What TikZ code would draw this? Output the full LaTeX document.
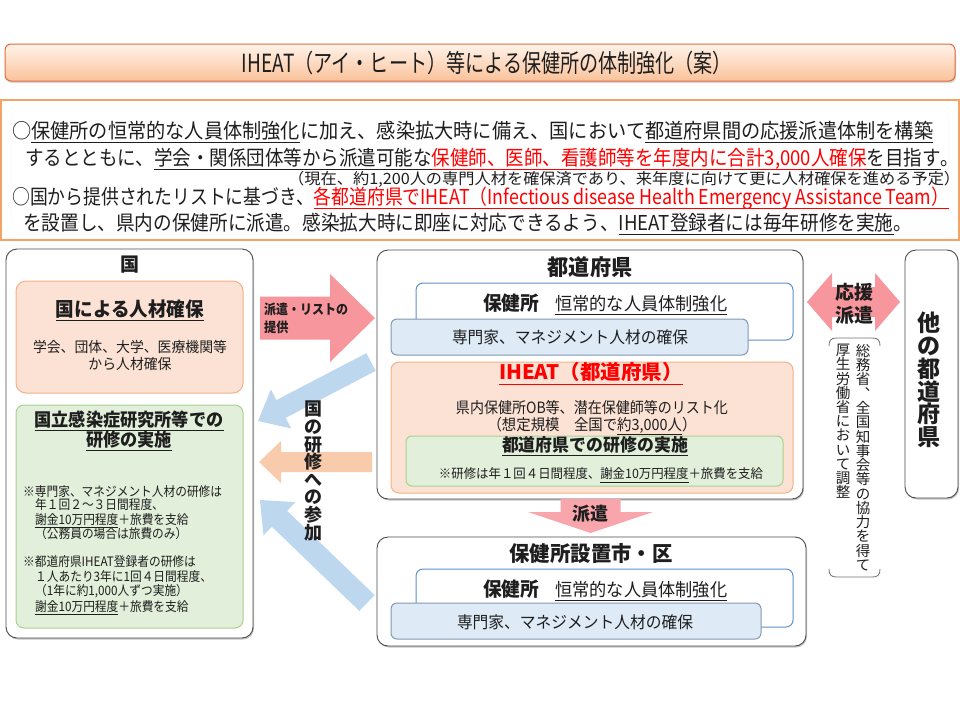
\documentclass[tikz,border=0pt]{standalone}
\usepackage{fontspec}
\setmainfont{Noto Sans CJK JP}
\usepackage{graphicx}
\usetikzlibrary{shadows,fit}

\definecolor{titleline}{HTML}{E26A3C}
\definecolor{titletop}{HTML}{FFF3EA}
\definecolor{titlebot}{HTML}{FAC29A}
\definecolor{introline}{HTML}{F2A365}
\definecolor{peachline}{HTML}{F4B183}
\definecolor{peachfill}{HTML}{FBE2D5}
\definecolor{greenline}{HTML}{A9D18E}
\definecolor{greenfill}{HTML}{E2EFDA}
\definecolor{blueline}{HTML}{5B8FC9}
\definecolor{slate}{HTML}{8497B0}
\definecolor{bluefill}{HTML}{DEEBF7}
\definecolor{pinkarrow}{HTML}{F7969C}
\definecolor{lightblue}{HTML}{BDD7EE}
\definecolor{lightorange}{HTML}{F8CBAD}
\definecolor{textred}{HTML}{FF0000}
\definecolor{textdark}{HTML}{1E1E1E}

\newcommand{\fsz}[1]{\fontsize{#1}{#1}\selectfont}
\newcommand{\ulx}[1]{\underline{\smash{#1}\rule[-0.13em]{0pt}{0.1em}}}
\newcommand{\redul}[1]{\textcolor{textred}{\ulx{#1}}}
\newcommand{\fitw}[2]{\resizebox{#1}{\height}{#2}}
\newcommand{\sx}[2]{\scalebox{#1}[1]{#2}}

\newdimen\bkxa \newdimen\bkya \newdimen\bkxb \newdimen\bkyb
\newcommand{\blockarrow}[6]{%
  \pgfextractx{\bkxa}{\pgfpointanchor{#2}{center}}%
  \pgfextracty{\bkya}{\pgfpointanchor{#2}{center}}%
  \pgfextractx{\bkxb}{\pgfpointanchor{#3}{center}}%
  \pgfextracty{\bkyb}{\pgfpointanchor{#3}{center}}%
  \pgfmathsetmacro\bkang{atan2(\bkyb-\bkya,\bkxb-\bkxa)}%
  \pgfmathsetmacro\bklen{veclen(\bkxb-\bkxa,\bkyb-\bkya)}%
  \fill[#1, shift={(\the\bkxa,\the\bkya)}, rotate=\bkang]
    (0,#4/2) -- ({\bklen-#6},#4/2) -- ({\bklen-#6},#5/2) -- (\bklen,0)
    -- ({\bklen-#6},-#5/2) -- ({\bklen-#6},-#4/2) -- (0,-#4/2) -- cycle;
}

\tikzset{
  outerbox/.style={draw=black!70, line width=0.9pt, rounded corners=11pt, fill=white, inner sep=0pt,
    drop shadow={shadow xshift=1pt, shadow yshift=-1.5pt, opacity=0.45}},
  orbox/.style={draw=peachline, fill=peachfill, line width=1pt, rounded corners=10pt, inner sep=0pt},
  grbox/.style={draw=greenline, fill=greenfill, line width=1pt, rounded corners=8pt, inner sep=0pt},
  hkbox/.style={draw=blueline, fill=white, line width=1pt, rounded corners=7pt, inner sep=0pt},
  bluebox/.style={draw=slate, fill=bluefill, line width=1pt, rounded corners=6pt, inner sep=0pt},
  txt/.style={inner sep=0pt, text=textdark},
  intro/.style={txt, anchor=base west, font=\fsz{20.5}},
  glist/.style={txt, anchor=base west, font=\fsz{13}},
}

\begin{document}
\begin{tikzpicture}[x=1pt,y=-1pt]
\useasboundingbox (0,0) rectangle (960,720);
\fill[white] (0,0) rectangle (960,720);

% title
\node[fit={(5,44) (955,81)}, inner sep=0pt, draw=titleline, line width=1pt, rounded corners=6pt,
  top color=titletop, bottom color=titlebot,
  drop shadow={shadow xshift=1pt, shadow yshift=-2pt, opacity=0.3}] (title) {};
\node[txt, font=\fsz{25}] (titletext) at (487,63) {\fitw{490pt}{IHEAT（アイ・ヒート）等による保健所の体制強化（案）}};

% intro box
\node[fit={(1,100) (959,240)}, inner sep=0pt, draw=introline, line width=1.3pt] (introbox) {};
\node[intro] (l1) at (12,138.5) {\fitw{921pt}{○\ulx{保健所の恒常的な人員体制強化}に加え、感染拡大時に備え、国において\ulx{都道府県間の応援派遣体制を構築}}};
\node[intro] (l2) at (25,165.5) {\fitw{934pt}{するとともに、\ulx{学会・関係団体等から派遣可能な}\redul{保健師、医師、看護師等を年度内に合計3,000人確保}\ulx{を目指す}。}};
\node[intro, font=\fsz{15.5}] (l3) at (288,184) {\fitw{672pt}{（現在、約1,200人の専門人材を確保済であり、来年度に向けて更に人材確保を進める予定）}};
\node[intro] (l4) at (12,204.5) {\fitw{937pt}{○国から提供されたリストに基づき、\redul{各都道府県でIHEAT（Infectious disease Health Emergency Assistance Team）}}};
\node[intro] (l5) at (23,230.5) {\fitw{889pt}{を設置し、県内の保健所に派遣。感染拡大時に即座に対応できるよう、\ulx{IHEAT登録者には毎年研修を実施}。}};

% national box
\node[outerbox, fit={(6,249) (253,638)}] (kuni) {};
\node[txt, font=\bfseries\fsz{19}] (kunititle) at (130,265) {国};
\node[orbox, fit={(16,281) (243,393)}] (jinzai) {};
\node[txt, font=\bfseries\fsz{19.5}] (jinzaititle) at (130,319) {\ulx{\fitw{148pt}{国による人材確保}}};
\node[txt, font=\fsz{14.5}] (jinzai1) at (130,347) {\fitw{194pt}{学会、団体、大学、医療機関等}};
\node[txt, font=\fsz{14.5}] (jinzai2) at (130,364) {\sx{0.955}{から人材確保}};

\node[grbox, fit={(16,405) (243,628)}] (kenkyu) {};
\node[txt, font=\bfseries\fsz{18}] (kenkyu1) at (129,429) {\ulx{\fitw{189pt}{国立感染症研究所等での}}};
\node[txt, font=\bfseries\fsz{18}] (kenkyu2) at (129,449) {\ulx{\sx{0.955}{研修の実施}}};
\node[glist] (g1) at (23,496) {\sx{0.9}{※専門家、マネジメント人材の研修は}};
\node[glist] (g2) at (35,509.5) {\sx{0.9}{年１回２～３日間程度、}};
\node[glist] (g3) at (35,524.5) {\sx{0.9}{\ulx{謝金10万円程度}＋旅費を支給}};
\node[glist] (g4) at (35,538.5) {\sx{0.9}{（公務員の場合は旅費のみ）}};
\node[glist] (g5) at (23,566) {\sx{0.9}{※都道府県IHEAT登録者の研修は}};
\node[glist] (g6) at (35,581) {\sx{0.9}{１人あたり3年に1回４日間程度、}};
\node[glist] (g7) at (35,595.5) {\sx{0.9}{（1年に約1,000人ずつ実施）}};
\node[glist] (g8) at (35,611) {\sx{0.9}{\ulx{謝金10万円程度}＋旅費を支給}};

% prefecture box
\node[outerbox, fit={(377,250) (803,499)}] (pref) {};
\node[txt, font=\bfseries\fsz{22}] (preftitle) at (590,267) {\sx{0.96}{都道府県}};
\node[hkbox, fit={(416,283) (793,340)}] (hoken1) {};
\node[bluebox, fit={(391,319) (748,355)}] (senmon1) {};
\node[txt, anchor=base west, font=\bfseries\fsz{19.5}] (hoken1a) at (483,310.5) {\sx{0.96}{保健所}};
\node[txt, anchor=base west, font=\fsz{18}] (hoken1b) at (555,310.5) {\ulx{\fitw{172pt}{恒常的な人員体制強化}}};
\node[txt, font=\fsz{16.5}] (senmon1t) at (570,337) {\fitw{236pt}{専門家、マネジメント人材の確保}};

\node[orbox, rounded corners=8pt, fit={(391,362) (793,493)}] (iheat) {};
\node[txt, font=\bfseries\fsz{20}, text=textred] (iheattitle) at (591,382) {\ulx{\fitw{184pt}{IHEAT（都道府県）}}};
\node[txt, font=\fsz{15.5}] (iheat1) at (592,408) {\fitw{272pt}{県内保健所OB等、潜在保健師等のリスト化}};
\node[txt, font=\fsz{15.5}] (iheat2) at (592,426) {\sx{0.93}{（想定規模　全国で\ulx{約3,000人}）}};
\node[grbox, rounded corners=6pt, fit={(406,436) (783,486)}] (prefken) {};
\node[txt, font=\bfseries\fsz{17.5}] (prefken1) at (595,454) {\ulx{\fitw{186pt}{都道府県での研修の実施}}};
\node[txt, font=\fsz{13}] (prefken2) at (601,475) {\fitw{324pt}{※研修は年１回４日間程度、\ulx{謝金10万円程度}＋旅費を支給}};

% city box
\node[outerbox, fit={(377,537) (806,646)}] (city) {};
\node[txt, font=\bfseries\fsz{21}] (citytitle) at (591,553) {\sx{0.97}{保健所設置市・区}};
\node[hkbox, fit={(416,569) (793,627)}] (hoken2) {};
\node[bluebox, fit={(391,603) (761,639)}] (senmon2) {};
\node[txt, anchor=base west, font=\bfseries\fsz{19.5}] (hoken2a) at (483,596.5) {\sx{0.96}{保健所}};
\node[txt, anchor=base west, font=\fsz{18}] (hoken2b) at (555,596.5) {\ulx{\fitw{172pt}{恒常的な人員体制強化}}};
\node[txt, font=\fsz{16.5}] (senmon2t) at (575,622) {\fitw{236pt}{専門家、マネジメント人材の確保}};

% other prefectures
\node[outerbox, fit={(905,250) (958,498)}] (other) {};
\node[txt, anchor=north, align=center, font=\bfseries\fontsize{23}{22.8}\selectfont] (othertext) at (929,312) {他\\の\\都\\道\\府\\県};

% arrows
\coordinate (pA) at (260,318);  \coordinate (pB) at (375,318);
\blockarrow{pinkarrow}{pA}{pB}{43}{88}{45}
\node[txt, anchor=base west, font=\bfseries\fsz{13.5}] (hakenlist1) at (264,314) {\fitw{84pt}{派遣・リストの}};
\node[txt, anchor=base west, font=\bfseries\fsz{13.5}] (hakenlist2) at (264,332) {\sx{0.9}{提供}};

\coordinate (b1s) at (371,362); \coordinate (b1e) at (258,421);
\blockarrow{lightblue}{b1s}{b1e}{20}{44}{26}
\coordinate (oS) at (372,462); \coordinate (oE) at (259,462);
\blockarrow{lightorange}{oS}{oE}{20}{42}{22}
\coordinate (b2s) at (367,603); \coordinate (b2e) at (260,500);
\blockarrow{lightblue}{b2s}{b2e}{22}{46}{27}
\node[txt, anchor=north, align=center, font=\bfseries\fontsize{18}{17.6}\selectfont] (sanka) at (313,401) {国\\の\\研\\修\\へ\\の\\参\\加};

\coordinate (dS) at (590.5,499); \coordinate (dE) at (590.5,533);
\blockarrow{pinkarrow!85!white}{dS}{dE}{60}{125}{21}
\node[txt, font=\bfseries\fsz{18}] (haken) at (590,514) {派遣};

% double arrow
\fill[pinkarrow] (807,302) -- (832,273) -- (832,287) -- (875,287) -- (875,273) -- (900,302)
  -- (875,331) -- (875,317) -- (832,317) -- (832,331) -- cycle;
\node[txt, font=\bfseries\fsz{19}] (ouen1) at (854,292) {応援};
\node[txt, font=\bfseries\fsz{19}] (ouen2) at (854,315) {派遣};

% bracket and vertical notes
\draw[black!55, line width=0.8pt] (829,346) .. controls (829,340) and (831,338) .. (837,338) -- (872,338) .. controls (878,338) and (880,340) .. (880,346);
\draw[black!55, line width=0.8pt] (829,569) .. controls (829,575) and (831,577) .. (837,577) -- (872,577) .. controls (878,577) and (880,575) .. (880,569);
\node[txt, anchor=north, align=center, font=\fontsize{14.5}{14.27}\selectfont] (note1) at (863,344) {総\\務\\省\\︑\\全\\国\\知\\事\\会\\等\\の\\協\\力\\を\\得\\て};
\node[txt, anchor=north, align=center, font=\fontsize{14.5}{14.2}\selectfont] (note2) at (843,344) {厚\\生\\労\\働\\省\\に\\お\\い\\て\\調\\整};
\end{tikzpicture}
\end{document}
